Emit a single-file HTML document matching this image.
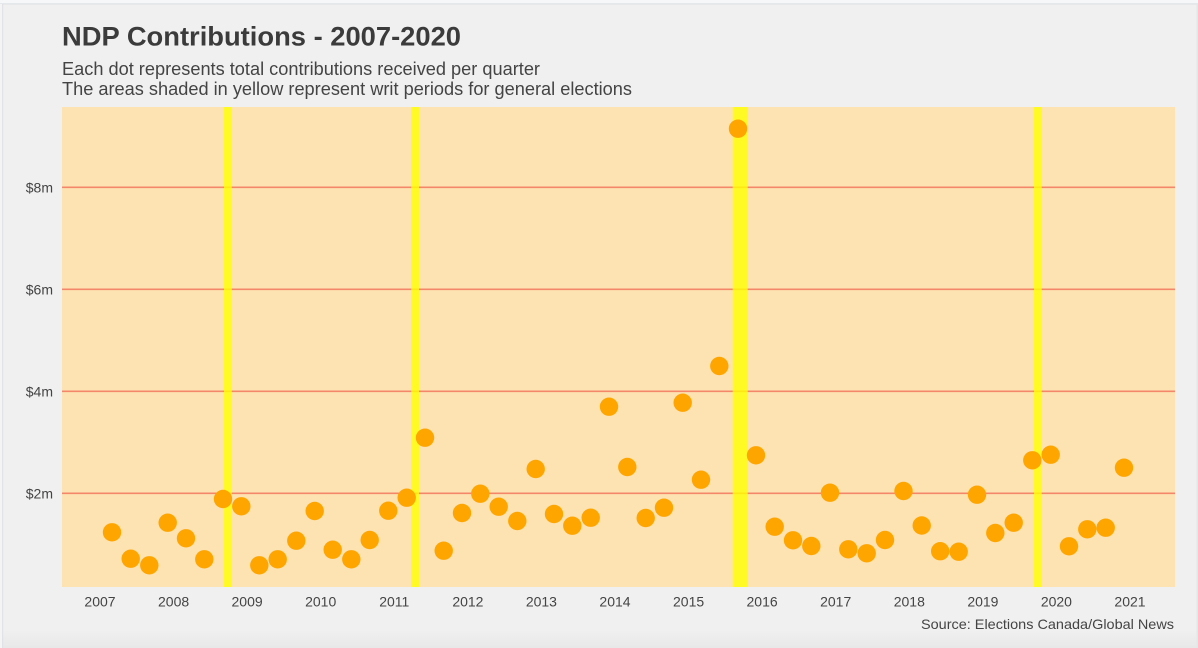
<!DOCTYPE html>
<html>
<head>
<meta charset="utf-8">
<style>
  html, body { margin: 0; padding: 0; }
  body { width: 1198px; height: 648px; overflow: hidden; background: #f0f0f0; }
  svg { display: block; }
  text { font-family: "Liberation Sans", Arial, sans-serif; }
</style>
</head>
<body>
<svg width="1198" height="648" viewBox="0 0 1198 648" xmlns="http://www.w3.org/2000/svg">
  <defs>
    <linearGradient id="bot" x1="0" y1="0" x2="0" y2="1">
      <stop offset="0" stop-color="#f0f0f0"/>
      <stop offset="1" stop-color="#e8e8e8"/>
    </linearGradient>
  </defs>
  <rect x="0" y="0" width="1198" height="648" fill="#f0f0f0"/>
  <rect x="0" y="630" width="1198" height="18" fill="url(#bot)"/>
  <rect x="0" y="0" width="1198" height="3.5" fill="#f6f7f8"/>
  <rect x="0" y="3.3" width="1198" height="1.2" fill="#dde1e4"/>
  <rect x="0" y="4" width="2.2" height="644" fill="#f4f4f4"/>
  <rect x="2.2" y="4" width="1" height="644" fill="#dde0e3"/>
  <rect x="1196.5" y="4" width="1.5" height="644" fill="#e6e6e6"/>

  <text x="62" y="45.6" font-size="26.5" font-weight="bold" fill="#3b3b3b" textLength="399" lengthAdjust="spacingAndGlyphs">NDP Contributions - 2007-2020</text>
  <text x="62" y="74.8" font-size="18.5" fill="#444" textLength="478" lengthAdjust="spacingAndGlyphs">Each dot represents total contributions received per quarter</text>
  <text x="62" y="94.8" font-size="18.5" fill="#444" textLength="570" lengthAdjust="spacingAndGlyphs">The areas shaded in yellow represent writ periods for general elections</text>

  <rect x="62" y="107" width="1113" height="480" fill="#fee3b2"/>

  <g stroke="#f4876a" stroke-width="1.6">
    <line x1="62" y1="187.3" x2="1175" y2="187.3"/>
    <line x1="62" y1="289.3" x2="1175" y2="289.3"/>
    <line x1="62" y1="391.3" x2="1175" y2="391.3"/>
    <line x1="62" y1="493.3" x2="1175" y2="493.3"/>
  </g>

  <g fill="#ffff00" fill-opacity="0.8">
    <rect x="224" y="107" width="7.8" height="480"/>
    <rect x="411.2" y="107" width="7.8" height="480"/>
    <rect x="732.7" y="107" width="15" height="480"/>
    <rect x="1034" y="107" width="7.7" height="480"/>
  </g>

  <g font-size="14" fill="#444" text-anchor="end">
    <text x="53" y="192.5">$8m</text>
    <text x="53" y="294.5">$6m</text>
    <text x="53" y="396.5">$4m</text>
    <text x="53" y="498.5">$2m</text>
  </g>

  <g font-size="14" fill="#444" text-anchor="middle">
    <text x="100" y="606.7">2007</text>
    <text x="173.6" y="606.7">2008</text>
    <text x="247.1" y="606.7">2009</text>
    <text x="320.7" y="606.7">2010</text>
    <text x="394.3" y="606.7">2011</text>
    <text x="467.9" y="606.7">2012</text>
    <text x="541.4" y="606.7">2013</text>
    <text x="615" y="606.7">2014</text>
    <text x="688.6" y="606.7">2015</text>
    <text x="762.1" y="606.7">2016</text>
    <text x="835.7" y="606.7">2017</text>
    <text x="909.3" y="606.7">2018</text>
    <text x="982.9" y="606.7">2019</text>
    <text x="1056.4" y="606.7">2020</text>
    <text x="1130" y="606.7">2021</text>
  </g>

  <g fill="#ffa500">
    <circle cx="112" cy="532.3" r="9.2"/>
    <circle cx="130.7" cy="558.7" r="9.2"/>
    <circle cx="149.3" cy="565.3" r="9.2"/>
    <circle cx="167.7" cy="522.7" r="9.2"/>
    <circle cx="186" cy="538.3" r="9.2"/>
    <circle cx="204.3" cy="559.3" r="9.2"/>
    <circle cx="223" cy="499" r="9.2"/>
    <circle cx="241.3" cy="506.3" r="9.2"/>
    <circle cx="259.3" cy="565.3" r="9.2"/>
    <circle cx="277.7" cy="559.3" r="9.2"/>
    <circle cx="296.3" cy="540.7" r="9.2"/>
    <circle cx="314.7" cy="511" r="9.2"/>
    <circle cx="332.7" cy="549.7" r="9.2"/>
    <circle cx="351.3" cy="559.3" r="9.2"/>
    <circle cx="369.7" cy="540" r="9.2"/>
    <circle cx="388.3" cy="510.7" r="9.2"/>
    <circle cx="406.7" cy="497.7" r="9.2"/>
    <circle cx="425" cy="437.7" r="9.2"/>
    <circle cx="443.7" cy="550.7" r="9.2"/>
    <circle cx="462" cy="513" r="9.2"/>
    <circle cx="480.3" cy="493.7" r="9.2"/>
    <circle cx="498.7" cy="506.7" r="9.2"/>
    <circle cx="517.3" cy="521" r="9.2"/>
    <circle cx="535.7" cy="469" r="9.2"/>
    <circle cx="554" cy="514" r="9.2"/>
    <circle cx="572.3" cy="525.7" r="9.2"/>
    <circle cx="590.7" cy="517.7" r="9.2"/>
    <circle cx="609" cy="406.7" r="9.2"/>
    <circle cx="627.3" cy="467" r="9.2"/>
    <circle cx="645.7" cy="518" r="9.2"/>
    <circle cx="664" cy="507.7" r="9.2"/>
    <circle cx="682.7" cy="402.7" r="9.2"/>
    <circle cx="701" cy="479.7" r="9.2"/>
    <circle cx="719.3" cy="366" r="9.2"/>
    <circle cx="738" cy="128.7" r="9.2"/>
    <circle cx="756" cy="455.3" r="9.2"/>
    <circle cx="774.7" cy="526.7" r="9.2"/>
    <circle cx="793" cy="540.3" r="9.2"/>
    <circle cx="811.3" cy="546" r="9.2"/>
    <circle cx="830" cy="492.7" r="9.2"/>
    <circle cx="848.3" cy="549.3" r="9.2"/>
    <circle cx="866.7" cy="553.3" r="9.2"/>
    <circle cx="885" cy="540" r="9.2"/>
    <circle cx="903.5" cy="491" r="9.2"/>
    <circle cx="921.7" cy="525.5" r="9.2"/>
    <circle cx="940.2" cy="551.2" r="9.2"/>
    <circle cx="958.7" cy="551.7" r="9.2"/>
    <circle cx="977" cy="494.7" r="9.2"/>
    <circle cx="995.3" cy="533" r="9.2"/>
    <circle cx="1013.7" cy="522.7" r="9.2"/>
    <circle cx="1032.3" cy="460.3" r="9.2"/>
    <circle cx="1050.7" cy="454.7" r="9.2"/>
    <circle cx="1069" cy="546.3" r="9.2"/>
    <circle cx="1087.3" cy="529.3" r="9.2"/>
    <circle cx="1105.7" cy="527.7" r="9.2"/>
    <circle cx="1124" cy="467.7" r="9.2"/>
  </g>

  <text x="921" y="629" font-size="14" fill="#444" textLength="253" lengthAdjust="spacingAndGlyphs">Source: Elections Canada/Global News</text>
</svg>
</body>
</html>
